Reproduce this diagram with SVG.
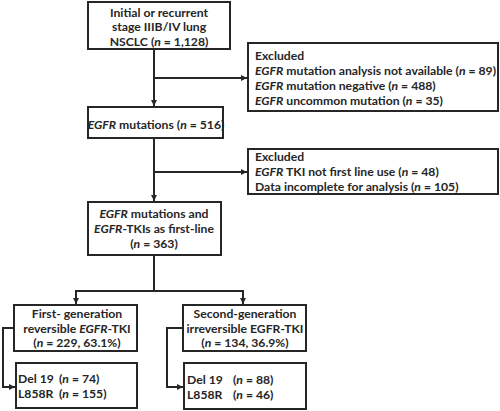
<svg xmlns="http://www.w3.org/2000/svg" width="500" height="411" viewBox="0 0 500 411">
<style>
.box{fill:#fff;stroke:#262626;stroke-width:2}
.ln{fill:none;stroke:#262626;stroke-width:2}
text{font-family:Lato,"Liberation Sans",sans-serif;font-weight:bold;font-size:12.2px;fill:#262626}
.c{text-anchor:middle}
.i{font-style:italic}
</style>
<defs>
<marker id="ah" viewBox="0 0 6 6" refX="6" refY="3" markerWidth="3" markerHeight="3" orient="auto" markerUnits="strokeWidth">
<path d="M0,0 L6,3 L0,6 z" fill="#262626"/>
</marker>
</defs>
<g id="connectors">
<path class="ln" d="M154,49 V106" marker-end="url(#ah)"/>
<path class="ln" d="M154,78 H247" marker-end="url(#ah)"/>
<path class="ln" d="M154,138 V201" marker-end="url(#ah)"/>
<path class="ln" d="M154,172 H247" marker-end="url(#ah)"/>
<path class="ln" d="M154,255 V291"/>
<path class="ln" d="M75,291 H244"/>
<path class="ln" d="M76,290 V304" marker-end="url(#ah)"/>
<path class="ln" d="M243,290 V304" marker-end="url(#ah)"/>
<path class="ln" d="M14,328 H3 V387 H15" marker-end="url(#ah)"/>
<path class="ln" d="M183,328 H167 V387 H183" marker-end="url(#ah)"/>
</g>
<g id="n1">
<rect class="box" x="88" y="2" width="142" height="47"/>
<text class="c" x="159" y="17">Initial or recurrent</text>
<text class="c" x="159" y="31">stage IIIB/IV lung</text>
<text class="c" x="159" y="46">NSCLC (<tspan class="i">n</tspan> = 1,128)</text>
</g>
<g id="n2">
<rect class="box" x="88" y="107" width="135" height="31"/>
<text class="c" x="156" y="129"><tspan class="i">EGFR</tspan> mutations (<tspan class="i">n</tspan> = 516)</text>
</g>
<g id="ex1">
<rect class="box" x="248" y="43" width="250" height="68"/>
<text x="255" y="60">Excluded</text>
<text x="255" y="75"><tspan class="i">EGFR</tspan> mutation analysis not available (<tspan class="i">n</tspan> = 89)</text>
<text x="255" y="90"><tspan class="i">EGFR</tspan> mutation negative (<tspan class="i">n</tspan> = 488)</text>
<text x="255" y="105"><tspan class="i">EGFR</tspan> uncommon mutation (<tspan class="i">n</tspan> = 35)</text>
</g>
<g id="ex2">
<rect class="box" x="248" y="149" width="250" height="45"/>
<text x="255" y="161">Excluded</text>
<text x="255" y="176"><tspan class="i">EGFR</tspan> TKI not first line use (<tspan class="i">n</tspan> = 48)</text>
<text x="255" y="191">Data incomplete for analysis (<tspan class="i">n</tspan> = 105)</text>
</g>
<g id="n3">
<rect class="box" x="88" y="202" width="133" height="53"/>
<text class="c" x="154" y="218"><tspan class="i">EGFR</tspan> mutations and</text>
<text class="c" x="154" y="233"><tspan class="i">EGFR</tspan>-TKIs as first-line</text>
<text class="c" x="154" y="248">(<tspan class="i">n</tspan>  = 363)</text>
</g>
<g id="n4">
<rect class="box" x="14" y="305" width="123" height="46"/>
<text class="c" x="77" y="318">First- generation</text>
<text class="c" x="77" y="333">reversible <tspan class="i">EGFR</tspan>-TKI</text>
<text class="c" x="77" y="347">(<tspan class="i">n</tspan> = 229, 63.1%)</text>
</g>
<g id="n5">
<rect class="box" x="183" y="305" width="123" height="46"/>
<text class="c" x="245" y="318">Second-generation</text>
<text class="c" x="245" y="333">irreversible EGFR-TKI</text>
<text class="c" x="245" y="347">(<tspan class="i">n</tspan> = 134, 36.9%)</text>
</g>
<g id="n6">
<rect class="box" x="16" y="363" width="121" height="45"/>
<text x="18" y="383">Del 19</text><text x="59" y="383">(<tspan class="i">n</tspan> = 74)</text>
<text x="18" y="398">L858R</text><text x="59" y="398">(<tspan class="i">n</tspan> = 155)</text>
</g>
<g id="n7">
<rect class="box" x="184" y="363" width="122" height="46"/>
<text x="187" y="384">Del 19</text><text x="233" y="384">(<tspan class="i">n</tspan> = 88)</text>
<text x="187" y="399">L858R</text><text x="233" y="399">(<tspan class="i">n</tspan> = 46)</text>
</g>
</svg>
